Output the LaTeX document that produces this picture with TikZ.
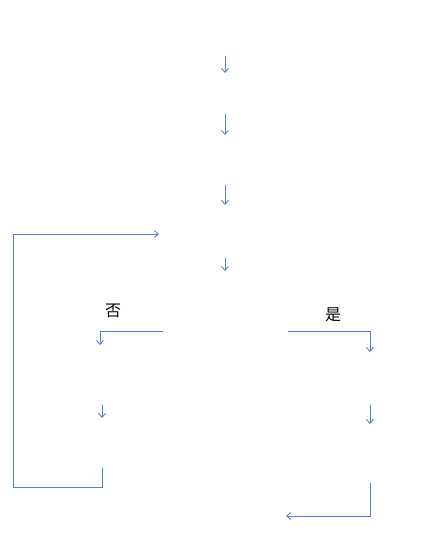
\documentclass[tikz,border=0pt]{standalone}
\usepackage{fontspec}
\newfontfamily\cjk{Noto Sans CJK SC}
\usetikzlibrary{arrows.meta}
\definecolor{flowblue}{RGB}{84,126,206}
\begin{document}
\begin{tikzpicture}[x=1pt, y=-1pt, >={Straight Barb[length=4pt,width=7pt]},
	flow/.style={draw=flowblue, line width=0.9pt},
	branch/.style={font=\cjk\fontsize{16}{16}\selectfont, inner sep=0pt}]
	\useasboundingbox (0,0) rectangle (423,547);
	% Punkte der (leeren) Kästen
	\coordinate (s1) at (225,56);  \coordinate (t1) at (225,73);
	\coordinate (s2) at (225,114); \coordinate (t2) at (225,135);
	\coordinate (s3) at (225,185); \coordinate (t3) at (225,205);
	\coordinate (s4) at (225,258); \coordinate (t4) at (225,271);
	\coordinate (lp) at (102,468); \coordinate (lq) at (159,234);
	\coordinate (no) at (163,331); \coordinate (nt) at (100,345);
	\coordinate (yes) at (288,331); \coordinate (yt) at (370,352);
	\coordinate (s5) at (102,405); \coordinate (t5) at (102,418);
	\coordinate (s6) at (370,405); \coordinate (t6) at (370,424);
	\coordinate (s7) at (370,483); \coordinate (t7) at (286,516);
	
	% Hauptlinie
	\draw[flow, ->] (s1) -- (t1);
	\draw[flow, ->] (s2) -- (t2);
	\draw[flow, ->] (s3) -- (t3);
	\draw[flow, ->] (s4) -- (t4);
	
	% Verzweigung
	\node[branch] (nolabel) at (113,311) {否};
	\node[branch] (yeslabel) at (333,315) {是};
	\draw[flow, ->] (no) -| (nt);
	\draw[flow, ->] (yes) -| (yt);
	\draw[flow, ->] (s5) -- (t5);
	\draw[flow, ->] (s6) -- (t6);
	
	% Rückschleife und Ende
	\draw[flow, ->] (lp) -- (102,487) -- (13,487) -- (13,234) -- (lq);
	\draw[flow, ->] (s7) |- (t7);
\end{tikzpicture}
\end{document}
